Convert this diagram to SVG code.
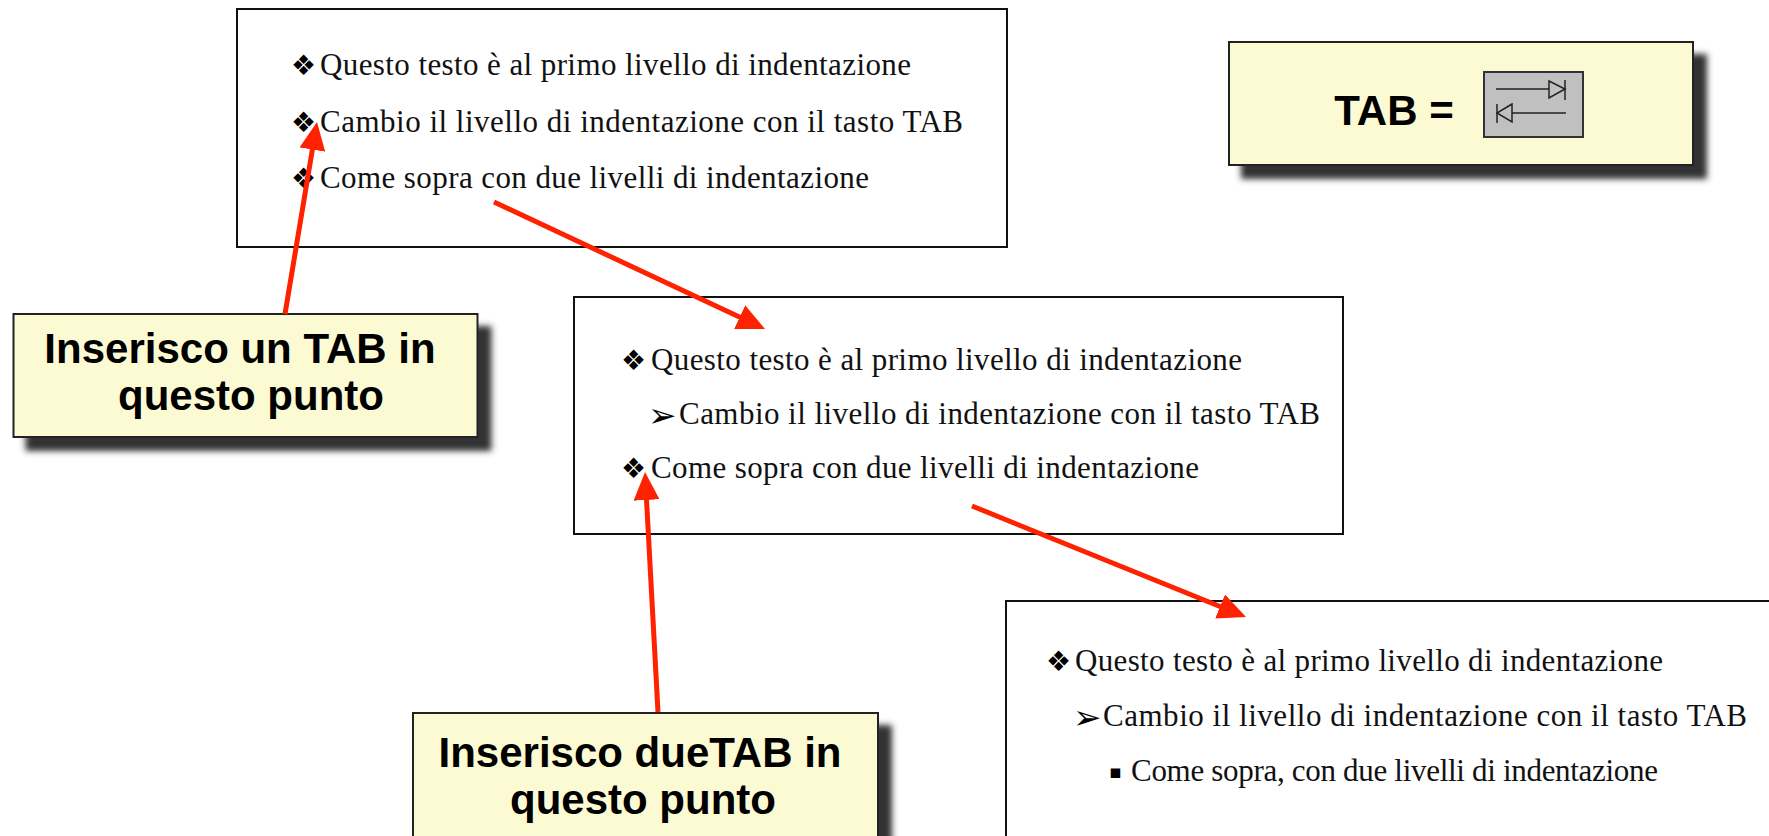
<svg xmlns="http://www.w3.org/2000/svg" width="1769" height="836" viewBox="0 0 1769 836">
<style>
.doc{fill:#fff;stroke:#111;stroke-width:2}
.call{fill:#fcfad2;stroke:#222;stroke-width:2}
.t{font-family:"Liberation Serif","Times New Roman",serif;font-size:31px;fill:#111}
.b{font-family:"DejaVu Sans",sans-serif;font-size:28px;fill:#000}
.ar{font-family:"DejaVu Sans",sans-serif;font-size:34px;fill:#000}
.sq{font-family:"DejaVu Sans",sans-serif;font-size:19px;fill:#000}
.ct{font-family:"Liberation Sans",Arial,sans-serif;font-size:42px;font-weight:bold;fill:#000;text-anchor:middle}
.conn{stroke:#ff2200;stroke-width:5;fill:none}
.ic{stroke:#222;stroke-width:1.5;fill:none}
</style>
<defs>
<filter id="sh" x="-10%" y="-20%" width="130%" height="150%">
<feDropShadow dx="13" dy="13" stdDeviation="3" flood-color="#333" flood-opacity="1"/>
</filter>
<marker id="ah" markerUnits="userSpaceOnUse" viewBox="0 0 28 26" markerWidth="28" markerHeight="26" refX="8" refY="13" orient="auto">
<path d="M0,0 L28,13 L0,26 z" fill="#ff2200"/>
</marker>
</defs>
<rect width="1769" height="836" fill="#fff"/>

<g id="box1">
<rect class="doc" x="237" y="9" width="770" height="238"/>
<text class="b" x="291" y="75">❖</text>
<text class="t" x="320" y="75" textLength="591" lengthAdjust="spacing">Questo testo è al primo livello di indentazione</text>
<text class="b" x="291" y="132">❖</text>
<text class="t" x="320" y="132" textLength="643" lengthAdjust="spacing">Cambio il livello di indentazione con il tasto TAB</text>
<text class="b" x="291" y="188">❖</text>
<text class="t" x="320" y="188" textLength="549" lengthAdjust="spacing">Come sopra con due livelli di indentazione</text>
</g>

<g id="box2">
<rect class="doc" x="574" y="297" width="769" height="237"/>
<text class="b" x="621" y="370">❖</text>
<text class="t" x="651" y="370" textLength="591" lengthAdjust="spacing">Questo testo è al primo livello di indentazione</text>
<text class="ar" x="648" y="427">➢</text>
<text class="t" x="679" y="424" textLength="641" lengthAdjust="spacing">Cambio il livello di indentazione con il tasto TAB</text>
<text class="b" x="621" y="478">❖</text>
<text class="t" x="651" y="478" textLength="548" lengthAdjust="spacing">Come sopra con due livelli di indentazione</text>
</g>

<g id="box3">
<rect class="doc" x="1006" y="601" width="800" height="300"/>
<text class="b" x="1046" y="671">❖</text>
<text class="t" x="1075" y="671" textLength="588" lengthAdjust="spacing">Questo testo è al primo livello di indentazione</text>
<text class="ar" x="1073" y="729">➢</text>
<text class="t" x="1103" y="726" textLength="644" lengthAdjust="spacing">Cambio il livello di indentazione con il tasto TAB</text>
<text class="sq" x="1109" y="778">▪</text>
<text class="t" x="1131" y="781" textLength="527" lengthAdjust="spacing">Come sopra, con due livelli di indentazione</text>
</g>

<g id="callout1">
<rect class="call" x="13.5" y="314" width="464" height="123" filter="url(#sh)"/>
<text class="ct" x="240" y="363">Inserisco un TAB in</text>
<text class="ct" x="251" y="410">questo punto</text>
</g>

<g id="callout2">
<rect class="call" x="413" y="713" width="465" height="140" filter="url(#sh)"/>
<text class="ct" x="640" y="767">Inserisco dueTAB in</text>
<text class="ct" x="643" y="814">questo punto</text>
</g>

<g id="tabkey">
<rect class="call" x="1229" y="42" width="464" height="123" filter="url(#sh)"/>
<text class="ct" x="1394" y="125">TAB =</text>
<rect x="1484" y="72" width="99" height="65" fill="#c0c0c0" stroke="#333" stroke-width="2"/>
<line class="ic" x1="1496" y1="89" x2="1549" y2="89"/>
<path class="ic" d="M1549,81 L1565,89 L1549,98 Z"/>
<line class="ic" x1="1565" y1="80" x2="1565" y2="100"/>
<line class="ic" x1="1512" y1="113" x2="1566" y2="113"/>
<path class="ic" d="M1512,104 L1497,113 L1512,122 Z"/>
<line class="ic" x1="1497" y1="104" x2="1497" y2="123"/>
</g>

<g id="connectors">
<line class="conn" x1="285" y1="314" x2="313.7" y2="141.7" marker-end="url(#ah)"/>
<line class="conn" x1="494" y1="202" x2="746.9" y2="320.5" marker-end="url(#ah)"/>
<line class="conn" x1="658" y1="712" x2="646.1" y2="492" marker-end="url(#ah)"/>
<line class="conn" x1="972" y1="506" x2="1227.5" y2="609.5" marker-end="url(#ah)"/>
</g>
</svg>
